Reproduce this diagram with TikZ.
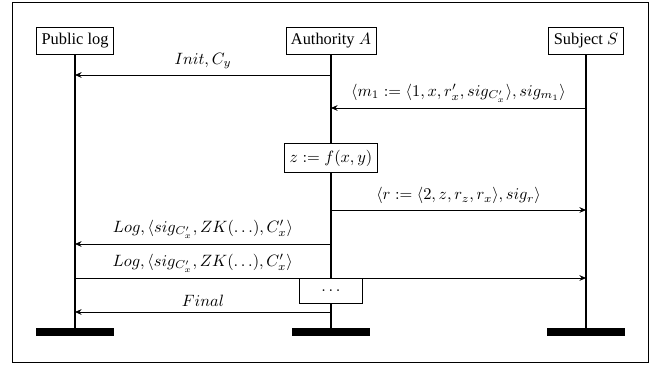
\documentclass[tikz,border=0pt]{standalone}
\usepackage{amsmath}
\usepackage{amssymb}
\usepackage{fontspec}
\setmainfont{Liberation Serif}
\usetikzlibrary{arrows.meta}

\begin{document}
\begin{tikzpicture}[
x=0.61pt, y=-0.61pt,
party/.style={rectangle, draw=black, semithick, inner sep=3pt, minimum height=16pt},
action/.style={rectangle, draw=black, fill=white, semithick, minimum height=18pt},
dots/.style={rectangle, draw=black, fill=white, semithick, minimum width=38pt, minimum height=15pt},
bar/.style={rectangle, fill=black, minimum width=47.6pt, minimum height=4.9pt, inner sep=0pt},
life/.style={line width=1.2pt},
msg/.style={semithick, -{Stealth[length=4pt, width=3.5pt]}},
]
\useasboundingbox (0,0) rectangle (659,366);
\draw[thin] (12,2) rectangle (648,362);

% parties and their lifelines
\node[party] (log) at (75,41) {Public log};
\node[party] (auth) at (331,41) {Authority $A$};
\node[party] (subj) at (586,41) {Subject $S$};
\node[bar] (logEnd) at (75,332) {};
\node[bar] (authEnd) at (331,332) {};
\node[bar] (subjEnd) at (586,332) {};
\draw[life] (log) -- (logEnd);
\draw[life] (auth) -- (authEnd);
\draw[life] (subj) -- (subjEnd);

% message rows
\coordinate (init) at (0,75);
\coordinate (req) at (0,108);
\coordinate (resp) at (0,210);
\coordinate (logA) at (0,244);
\coordinate (logB) at (0,278);
\coordinate (fin) at (0,312);

\draw[msg] (auth |- init) -- node[above] {$Init, C_y$} (log |- init);
\draw[msg] (subj |- req) -- node[above]
	{$\langle m_1 := \langle 1, x, r'_x, sig_{C'_x}\rangle, sig_{m_1}\rangle$} (auth |- req);
\draw[msg] (auth |- resp) -- node[above]
	{$\langle r := \langle 2, z, r_z, r_x\rangle, sig_r\rangle$} (subj |- resp);
\draw[msg] (auth |- logA) -- node[above]
	{$Log, \langle sig_{C'_x}, ZK(\ldots), C'_x\rangle$} (log |- logA);
\draw[msg] (log |- logB) -- node[above, pos=0.25]
	{$Log, \langle sig_{C'_x}, ZK(\ldots), C'_x\rangle$} (subj |- logB);
\draw[msg] (auth |- fin) -- node[above] {$Final$} (log |- fin);

% local steps of the authority
\node[action] (eval) at (331,158) {$z := f(x,y)$};
\node[dots] (more) at (331,291) {$\ldots$};
\end{tikzpicture}
\end{document}
